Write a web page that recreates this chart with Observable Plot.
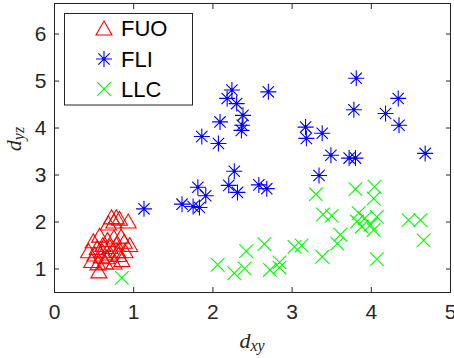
<!DOCTYPE html>
<html><head><meta charset="utf-8">
<script src="https://cdn.jsdelivr.net/npm/d3@7"></script>
<script src="https://cdn.jsdelivr.net/npm/@observablehq/plot@0.6"></script>
<style>body{margin:0;background:#fff;overflow:hidden} svg{display:block}</style>
</head><body><div id="chart"></div>
<script>
// ---- data ----
const seriesNames = ["FUO", "FLI", "LLC"];
const seriesColors = ["#ff0000", "#0000ff", "#00ff00"];
const fuoX = [0.72,0.78,0.82,0.75,0.68,0.93,0.57,0.49,0.67,0.75,0.84,0.88,0.95,0.43,0.51,0.60,0.70,0.80,0.89,0.47,0.55,0.64,0.75,0.85,0.56,0.61,0.54,0.70,0.78,0.59,0.66,0.81];
const fuoY = [2.11,2.11,2.08,2.02,1.98,2.02,1.72,1.60,1.63,1.68,1.70,1.59,1.52,1.39,1.32,1.39,1.34,1.39,1.39,1.18,1.13,1.15,1.15,1.20,0.96,1.52,1.46,1.48,1.53,1.28,1.26,1.31];
const fliX = [2.24,2.18,2.30,2.70,2.09,2.38,2.37,2.36,1.86,2.07,3.17,3.18,2.27,2.20,2.31,1.81,1.91,2.58,2.68,1.13,1.61,1.75,1.83,3.81,3.78,4.34,4.18,4.35,3.38,3.49,3.72,3.80,4.68,3.34];
const fliY = [4.81,4.63,4.52,4.77,4.13,4.27,4.06,3.95,3.82,3.67,4.02,3.78,3.08,2.78,2.63,2.74,2.56,2.79,2.71,2.28,2.38,2.33,2.31,5.06,4.39,4.63,4.31,4.06,3.89,3.42,3.36,3.36,3.46,2.99];
const llcX = [3.30,3.80,4.04,4.03,3.39,3.50,3.84,4.07,3.82,3.92,3.88,3.99,4.03,4.47,4.62,4.66,4.07,3.61,3.57,3.38,3.03,3.12,2.65,2.42,2.06,2.27,2.40,2.72,2.84,2.84,0.85];
const llcY = [2.59,2.70,2.75,2.50,2.16,2.13,2.19,2.11,2.01,2.08,1.90,1.94,1.83,2.04,2.04,1.61,1.21,1.73,1.54,1.26,1.47,1.50,1.53,1.38,1.09,0.91,1.01,0.98,1.14,1.03,0.81];
const xTicks = [0, 1, 2, 3, 4, 5];
const yTicks = [1, 2, 3, 4, 5, 6];

// ---- marker shapes (MATLAB-like) ----
const rad = size => Math.sqrt(size / Math.PI);
const triSym = {draw(ctx, size) { const r = rad(size); const h = r * 0.875;
  ctx.moveTo(0, -h); ctx.lineTo(r, h); ctx.lineTo(-r, h); ctx.closePath(); }};
const astSym = {draw(ctx, size) { const r = rad(size); const d = r * Math.SQRT1_2;
  ctx.moveTo(-r, 0); ctx.lineTo(r, 0); ctx.moveTo(0, -r); ctx.lineTo(0, r);
  ctx.moveTo(-d, -d); ctx.lineTo(d, d); ctx.moveTo(-d, d); ctx.lineTo(d, -d);
  ctx.moveTo(1.2, 0); ctx.arc(0, 0, 1.2, 0, 2 * Math.PI); }};
const xSym = {draw(ctx, size) { const r = rad(size) * 0.85;
  ctx.moveTo(-r, -r); ctx.lineTo(r, r); ctx.moveTo(-r, r); ctx.lineTo(r, -r); }};
const symbols = [triSym, astSym, xSym];

const toRows = (xs, ys, s) => xs.map((x, i) => ({x, y: ys[i], s}));
const data = [
  ...toRows(fuoX, fuoY, "FUO"),
  ...toRows(fliX, fliY, "FLI"),
  ...toRows(llcX, llcY, "LLC")
];

const axisColor = "#262626";
const fmt = d => String(d);
const plot = Plot.plot({
  width: 454, height: 358,
  marginLeft: 54, marginRight: 4, marginTop: 3, marginBottom: 66,
  style: {fontFamily: "'Liberation Sans', Arial, sans-serif", fontSize: "21px", color: axisColor, background: "white"},
  x: {domain: [0, 5]},
  y: {domain: [0.5, 6.65]},
  marks: [
    Plot.frame({stroke: axisColor, strokeWidth: 1}),
    Plot.axisX({anchor: "bottom", ticks: xTicks, tickFormat: fmt, tickSize: 0, tickPadding: 12, label: null, fill: axisColor}),
    Plot.axisX({anchor: "bottom", ticks: xTicks, tickSize: -5, tickFormat: () => "", label: null}),
    Plot.axisX({anchor: "top", ticks: xTicks, tickSize: -5, tickFormat: () => "", label: null}),
    Plot.axisY({anchor: "left", ticks: yTicks, tickFormat: fmt, tickSize: 0, tickPadding: 8, label: null, fill: axisColor}),
    Plot.axisY({anchor: "left", ticks: yTicks, tickSize: -5, tickFormat: () => "", label: null}),
    Plot.axisY({anchor: "right", ticks: yTicks, tickSize: -5, tickFormat: () => "", label: null}),
    ...seriesNames.map((name, i) => Plot.dot(data.filter(d => d.s === name), {
      x: "x", y: "y", r: 8, symbol: symbols[i], stroke: seriesColors[i], strokeWidth: 1.1, fill: "none"
    }))
  ]
});
document.getElementById("chart").appendChild(plot);

// ---- axis labels (LaTeX-like) ----
const svg = d3.select(plot);
const xl = svg.append("text").attr("x", 252).attr("y", 348).attr("text-anchor", "middle")
  .attr("fill", axisColor).style("font-family", "'Liberation Serif', 'DejaVu Serif', serif").style("font-style", "italic").style("font-size", "22px");
xl.append("tspan").text("d");
xl.append("tspan").attr("dy", 3).style("font-size", "16px").text("xy");
const yl = svg.append("text").attr("transform", "translate(21,139) rotate(-90)").attr("text-anchor", "middle")
  .attr("fill", axisColor).style("font-family", "'Liberation Serif', 'DejaVu Serif', serif").style("font-style", "italic").style("font-size", "22px");
yl.append("tspan").text("d");
yl.append("tspan").attr("dy", 3).style("font-size", "16px").text("yz");

// ---- legend ----
const lg = svg.append("g");
lg.append("rect").attr("x", 64.5).attr("y", 13.5).attr("width", 128).attr("height", 91.5)
  .attr("fill", "white").attr("stroke", axisColor).attr("stroke-width", 1);
const rowY = [28, 59, 89];
seriesNames.forEach((name, i) => {
  lg.append("path").attr("transform", `translate(104,${rowY[i]})`)
    .attr("d", d3.symbol(symbols[i], 64 * Math.PI)())
    .attr("fill", "none").attr("stroke", seriesColors[i]).attr("stroke-width", 1.1);
  lg.append("text").attr("x", 121).attr("y", rowY[i]).attr("dy", "0.36em").attr("text-anchor", "start")
    .attr("fill", "black").style("font-family", "'Liberation Sans', Arial, sans-serif").style("font-size", "22px").text(name);
});
</script>
</body></html>
